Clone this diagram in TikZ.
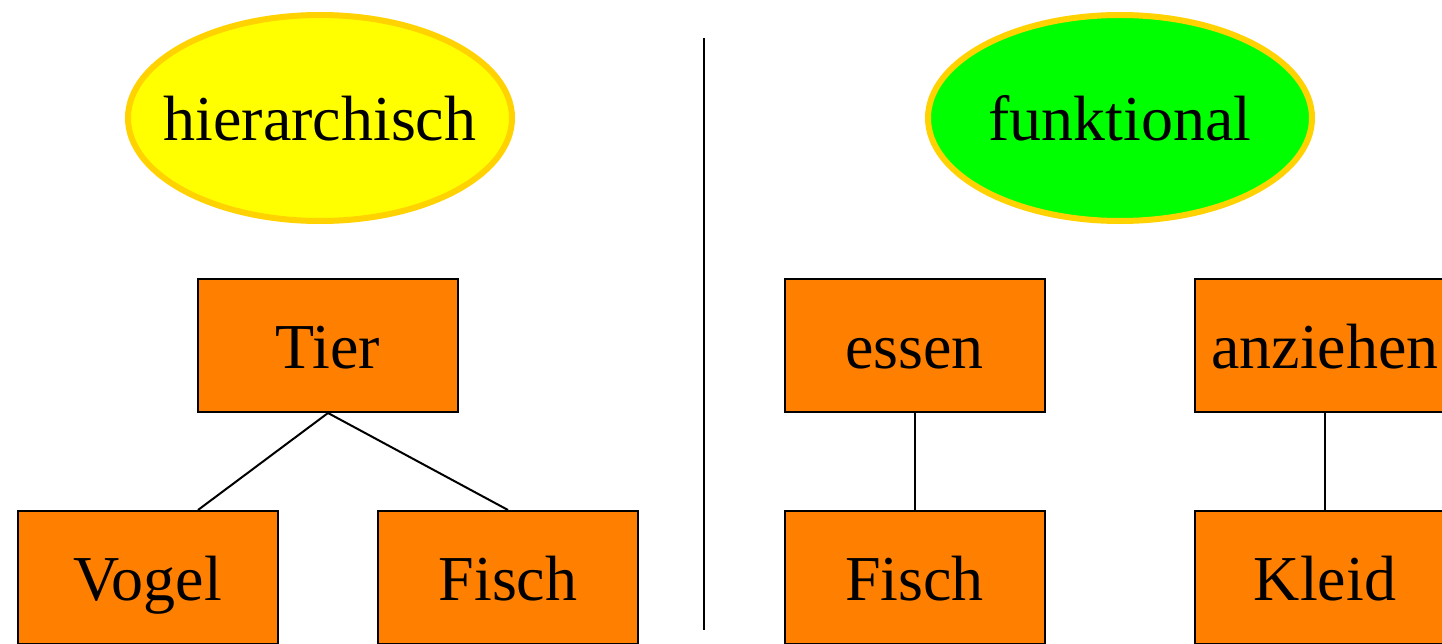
\documentclass[tikz,border=0pt]{standalone}
\usepackage{fontspec}
\setmainfont{Liberation Serif}
\usetikzlibrary{shapes.geometric}
\definecolor{boxorange}{HTML}{FF7F00}
\definecolor{ovalgold}{HTML}{FFD200}
\definecolor{ovalyellow}{HTML}{FFFF00}
\definecolor{ovalgreen}{HTML}{00FF00}
\begin{document}
\begin{tikzpicture}[x=1pt,y=-1pt,
  every node/.style={font=\fontsize{64}{64}\selectfont, text height=46pt, text depth=0pt},
  ovalbox/.style={ellipse, draw=ovalgold, line width=6pt, minimum width=384pt, minimum height=206pt, inner xsep=-22pt, inner ysep=0pt},
  termbox/.style={rectangle, draw=black, line width=2pt, fill=boxorange, minimum width=260pt, minimum height=133pt, inner sep=0pt},
  link/.style={draw=black, line width=2pt}]
\useasboundingbox (0,0) rectangle (1442,644);
\clip (0,0) rectangle (1442,644);
\node[ovalbox, fill=ovalyellow] (hier) at (320,118) {hierarchisch};
\node[ovalbox, fill=ovalgreen] (funk) at (1120,118) {funktional};
\node[termbox] (tier) at (328,345.5) {Tier};
\node[termbox] (vogel) at (148,577.5) {Vogel};
\node[termbox] (fischA) at (508,577.5) {Fisch};
\node[termbox] (essen) at (914.5,345.5) {essen};
\node[termbox] (fischB) at (914.5,577.5) {Fisch};
\node[termbox] (anz) at (1325,345.5) {anziehen};
\node[termbox] (kleid) at (1325,577.5) {Kleid};
\coordinate (septop) at (704,38);
\coordinate (sepbot) at (704,630);
\draw[link] (septop) -- (sepbot);
\draw[link] (tier.south) -- ([xshift=50pt]vogel.north);
\draw[link] (tier.south) -- (fischA.north);
\draw[link] (essen.south) -- (fischB.north);
\draw[link] (anz.south) -- (kleid.north);
\end{tikzpicture}
\end{document}
